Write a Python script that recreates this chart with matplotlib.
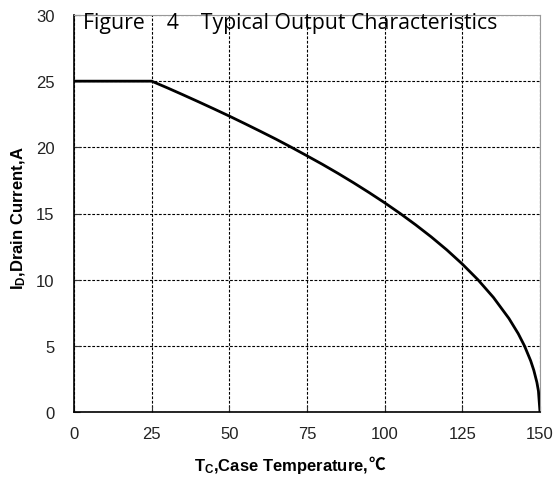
import matplotlib
matplotlib.use("Agg")
import matplotlib.pyplot as plt

plt.rcParams["mathtext.default"] = "regular"
plt.rcParams["mathtext.fontset"] = "custom"
plt.rcParams["mathtext.rm"] = "Liberation Sans"
plt.rcParams["mathtext.bf"] = "Liberation Sans:bold"

temps = [0, 25, 30, 35, 40, 45, 50, 55, 60, 65, 70, 75, 80, 85, 90, 95, 100,
         105, 110, 115, 120, 125, 130, 135, 140, 143, 145, 147, 148, 149, 149.5, 150]
current = [25, 25, 24.5, 23.98, 23.45, 22.91, 22.36, 21.79, 21.21, 20.62, 20.0,
           19.36, 18.71, 18.03, 17.32, 16.58, 15.81, 15.0, 14.14, 13.23, 12.25,
           11.18, 10.0, 8.66, 7.07, 5.92, 5.0, 3.87, 3.16, 2.24, 1.58, 0]
xticks = [0, 25, 50, 75, 100, 125, 150]
yticks = [0, 5, 10, 15, 20, 25, 30]
title = "Figure    4    Typical Output Characteristics"
xlabel = "T$_\\mathregular{C}$,Case Temperature,"
xunit = "\u2103"
ylabel = "I$_\\mathregular{D}$,Drain Current,A"

LABEL_FONT = "Liberation Sans"

fig = plt.figure(figsize=(5.55, 4.81), dpi=100)
ax = fig.add_axes([74/555, 68/481, 466/555, 397/481])
ax.plot(temps, current, color="black", lw=2, solid_capstyle="butt", zorder=3)
ax.set_xlim(0, 150)
ax.set_ylim(0, 30)
ax.set_xticks(xticks)
ax.set_yticks(yticks)
ax.grid(True, color="black", linestyle=(0, (2.5, 1.5)), lw=0.8)
ax.tick_params(direction="in", length=4, width=0.8, colors="#333333",
               labelsize=12, pad=14, top=False, right=False)
ax.tick_params(axis="x", pad=10)
for lab in ax.get_xticklabels() + ax.get_yticklabels():
    lab.set_family("Liberation Sans")
    lab.set_color("#222222")
ax.spines["left"].set_color("black")
ax.spines["bottom"].set_color("black")
ax.spines["left"].set_linewidth(1.2)
ax.spines["bottom"].set_linewidth(1.2)
ax.spines["top"].set_color("#999999")
ax.spines["right"].set_color("#999999")
ax.spines["top"].set_linewidth(0.8)
ax.spines["right"].set_linewidth(0.8)

xl = ax.set_xlabel(xlabel, family=LABEL_FONT, fontweight="bold",
                   fontsize=12, labelpad=11)
ax.xaxis.label.set_x(0.445)
ax.annotate(xunit, xy=(1, 0), xycoords=xl, xytext=(0, 1.5),
            textcoords="offset points", ha="left", va="bottom",
            family="Noto Sans CJK SC", fontweight="bold", fontsize=12)
ax.set_ylabel(ylabel, family=LABEL_FONT, fontweight="bold", fontsize=12,
              labelpad=6)
ax.yaxis.label.set_y(0.49)

ax.text(0.02, 0.98, title, transform=ax.transAxes, ha="left", va="center",
        family="Open Sans", fontsize=15.3, color="black", zorder=5)

fig.savefig("out.png", dpi=100)
